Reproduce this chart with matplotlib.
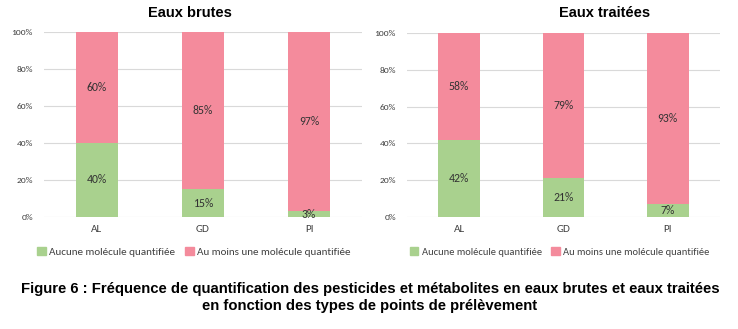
import numpy as np
import matplotlib.pyplot as plt
from matplotlib.patches import Patch

# data
categories = ["AL", "GD", "PI"]
brutes_none = [40, 15, 3]
brutes_some = [60, 85, 97]
traitees_none = [42, 21, 7]
traitees_some = [58, 79, 93]
panel_titles = ["Eaux brutes", "Eaux traitées"]
series_names = ["Aucune molécule quantifiée", "Au moins une molécule quantifiée"]

green = "#A9D18E"
pink = "#F48B9C"
txt = "#404040"
body_font = ["Carlito", "Lato", "DejaVu Sans"]

fig = plt.figure(figsize=(7.38, 3.29), dpi=100)
ax1 = fig.add_axes([44 / 738, 1 - 217 / 329, 318 / 738, 185 / 329])
ax2 = fig.add_axes([407 / 738, 1 - 217 / 329, 313 / 738, 184 / 329])

panels = [
    (ax1, brutes_none, brutes_some),
    (ax2, traitees_none, traitees_some),
]

for ax, none_vals, some_vals in panels:
    x = np.arange(len(categories))
    b1 = ax.bar(x, none_vals, width=0.4, color=green, zorder=2)
    b2 = ax.bar(x, some_vals, width=0.4, bottom=none_vals, color=pink, zorder=2)
    for bars, vals, base in [(b1, none_vals, [0] * 3), (b2, some_vals, none_vals)]:
        for rect, v, b in zip(bars, vals, base):
            ax.text(rect.get_x() + rect.get_width() / 2, b + v / 2, f"{v}%",
                    ha="center", va="center", fontsize=8.5, color="#333333",
                    family=body_font, zorder=3)
    ax.set_xlim(-0.5, 2.5)
    ax.set_ylim(0, 100)
    ax.set_yticks(range(0, 101, 20))
    ax.set_yticklabels([f"{v}%" for v in range(0, 101, 20)], family=body_font,
                       fontsize=6.8, color=txt)
    ax.set_xticks(x)
    ax.set_xticklabels(categories, family=body_font, fontsize=8, color=txt)
    ax.tick_params(length=0, pad=8)
    ax.tick_params(axis="x", pad=6)
    ax.yaxis.grid(True, color="#D9D9D9", linewidth=0.8, zorder=0)
    for s in ax.spines.values():
        s.set_visible(False)

# panel titles sit a little off the axes centres in the original
for xc, title in zip([190, 605], panel_titles):
    fig.text(xc / 738, 1 - 13 / 329, title, ha="center", va="center",
             fontsize=10.5, fontweight="bold",
             family=["Liberation Sans", "DejaVu Sans"])

handles = [Patch(color=green), Patch(color=pink)]
for xpos, fs in [(37 / 738, 8), (410 / 738, 7.6)]:
    fig.legend(handles, series_names, loc="center left",
               bbox_to_anchor=(xpos, 1 - 252 / 329), ncol=2, frameon=False,
               prop={"family": body_font, "size": fs}, handlelength=0.8,
               handleheight=0.8, handletextpad=0.3, columnspacing=0.9,
               borderaxespad=0, borderpad=0, labelcolor=txt)

caption = ("Figure 6 : Fréquence de quantification des pesticides et métabolites en eaux brutes et eaux traitées\n"
           "en fonction des types de points de prélèvement")
fig.text(370 / 738, 1 - 297.5 / 329, caption, ha="center", va="center", fontsize=10.75,
         fontweight="bold", family=["Liberation Sans", "DejaVu Sans"],
         linespacing=1.3)

fig.savefig("out.png", dpi=100)
